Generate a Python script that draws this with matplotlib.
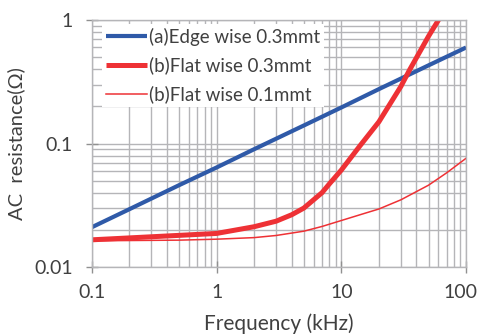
# -*- coding: utf-8 -*-
import matplotlib
matplotlib.use('Agg')
import matplotlib.pyplot as plt
from matplotlib.transforms import ScaledTranslation
from matplotlib.ticker import LogLocator, FixedLocator, FixedFormatter, NullFormatter

plt.rcParams['font.family'] = ['Lato', 'DejaVu Sans']

# Frequency (kHz) and AC resistance (ohm)
freq_edge = [0.1, 0.2, 0.5, 1, 2, 5, 10, 20, 50, 100]
r_edge_03 = [0.021, 0.0294, 0.046, 0.064, 0.090, 0.140, 0.196, 0.276, 0.43, 0.60]

freq_flat_03 = [0.1, 1, 2, 3, 4, 5, 7, 8, 10, 14, 20, 30, 35, 50, 60, 100]
r_flat_03 = [0.0166, 0.0187, 0.0212, 0.0235, 0.0265, 0.030, 0.040, 0.047, 0.061,
             0.095, 0.150, 0.29, 0.39, 0.74, 1.0, 2.6]

freq_flat_01 = [0.1, 0.5, 1, 2, 3, 5, 7, 10, 15, 20, 30, 50, 70, 100]
r_flat_01 = [0.0163, 0.0165, 0.0168, 0.0173, 0.0180, 0.0195, 0.0213, 0.0238,
             0.027, 0.0295, 0.035, 0.046, 0.058, 0.076]

labels = ['(a)Edge wise 0.3mmt', '(b)Flat wise 0.3mmt', '(b)Flat wise 0.1mmt']
x_ticks = [0.1, 1, 10, 100]
x_tick_labels = ['0.1', '1', '10', '100']
y_ticks = [0.01, 0.1, 1]
y_tick_labels = ['0.01', '0.1', '1']

BLUE = '#2f5aa8'
RED = '#ee3135'
GRID = '#b5b5b8'
TXT = '#404040'

fig = plt.figure(figsize=(4.81, 3.35), dpi=100)
ax = fig.add_axes([0.191, 0.203, 0.778, 0.737])

ax.plot(freq_edge, r_edge_03, color=BLUE, lw=3.0, label=labels[0], solid_capstyle='butt')
ax.plot(freq_flat_03, r_flat_03, color=RED, lw=3.6, label=labels[1],
        solid_capstyle='butt', solid_joinstyle='round')
ax.plot(freq_flat_01, r_flat_01, color=RED, lw=1.1, label=labels[2])

ax.set_xscale('log')
ax.set_yscale('log')
ax.set_xlim(0.1, 100)
ax.set_ylim(0.01, 1)

ax.xaxis.set_major_locator(FixedLocator(x_ticks))
ax.xaxis.set_major_formatter(FixedFormatter(x_tick_labels))
ax.yaxis.set_major_locator(FixedLocator(y_ticks))
ax.yaxis.set_major_formatter(FixedFormatter(y_tick_labels))
ax.xaxis.set_minor_locator(LogLocator(base=10, subs=range(2, 10)))
ax.yaxis.set_minor_locator(LogLocator(base=10, subs=range(2, 10)))
ax.xaxis.set_minor_formatter(NullFormatter())
ax.yaxis.set_minor_formatter(NullFormatter())

ax.grid(True, which='both', color=GRID, lw=1.0)
ax.set_axisbelow(True)
for s in ax.spines.values():
    s.set_color(GRID)
    s.set_linewidth(1.0)

ax.tick_params(which='major', direction='inout', length=9, width=1.0, color='#909090',
               labelsize=14, labelcolor=TXT)
ax.tick_params(axis='x', which='major', pad=8)
ax.tick_params(axis='y', which='major', pad=9)
ax.tick_params(which='minor', length=0)

# nudge the last x label ("100") left so it stays inside the figure
last = ax.xaxis.get_major_ticks()[-1].label1
last.set_transform(last.get_transform() + ScaledTranslation(-4 / 72, 0, fig.dpi_scale_trans))

ax.set_xlabel('Frequency (kHz)', fontsize=15, color=TXT, labelpad=9)
ax.set_ylabel('AC  resistance(Ω)', fontsize=14.5, color=TXT, labelpad=7)

leg = ax.legend(loc='upper left', bbox_to_anchor=(0.028, 0.985), fontsize=13.5,
                handlelength=2.2, handletextpad=0.1, labelspacing=0.58,
                borderpad=0.2, borderaxespad=0, frameon=True, fancybox=False)
leg.get_frame().set_facecolor('white')
leg.get_frame().set_edgecolor('none')
leg.get_frame().set_alpha(1.0)
for t in leg.get_texts():
    t.set_color(TXT)

fig.savefig('out.png', dpi=100, facecolor='white')
